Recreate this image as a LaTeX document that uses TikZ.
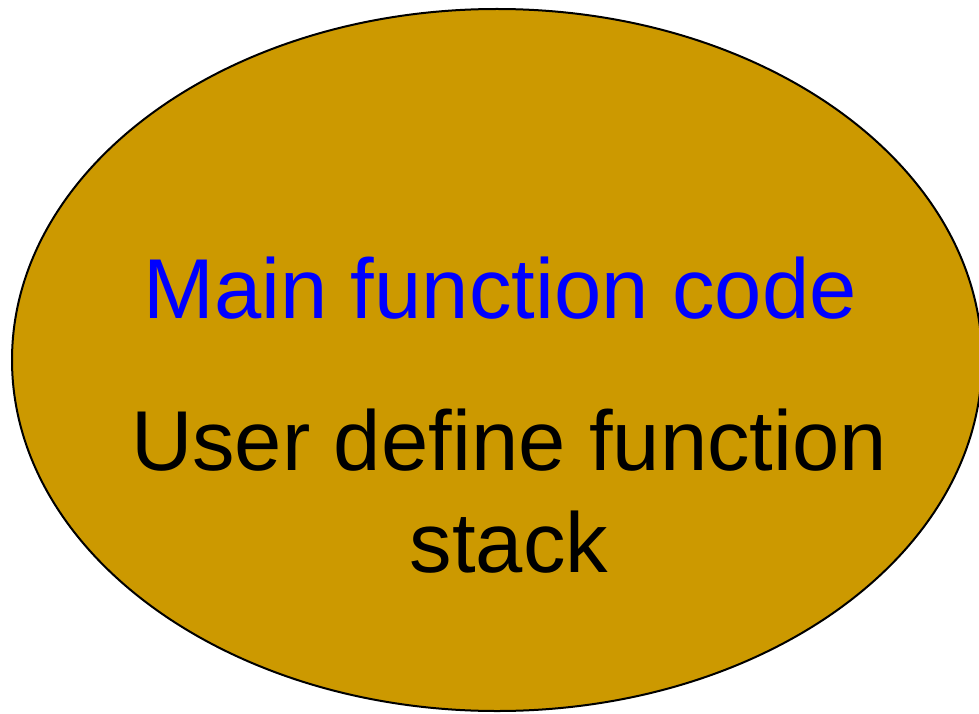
\documentclass[tikz,border=0pt]{standalone}
\usepackage{fontspec}
\setmainfont{Liberation Sans}
\usetikzlibrary{shapes.geometric}
\definecolor{gold}{HTML}{CC9900}
\definecolor{mainblue}{HTML}{0000FF}
\tikzset{
  blob/.style={draw=black, line width=2pt, fill=gold},
  bigtext/.style={font=\fontsize{85}{102}\selectfont, align=center, inner sep=0pt}
}
\begin{document}
\begin{tikzpicture}[x=1pt,y=-1pt]
  \useasboundingbox (0,0) rectangle (979,714);
  \begin{scope}
    \clip (0,0) rectangle (979,714);
    \draw[blob] (497,360) ellipse [x radius=485, y radius=351];
  \end{scope}
  \node[bigtext, text=mainblue, anchor=base] (main) at (500,318) {Main function code};
  \node[bigtext, text=black, anchor=base] (user) at (509,572) {User define function\\stack};
\end{tikzpicture}
\end{document}
